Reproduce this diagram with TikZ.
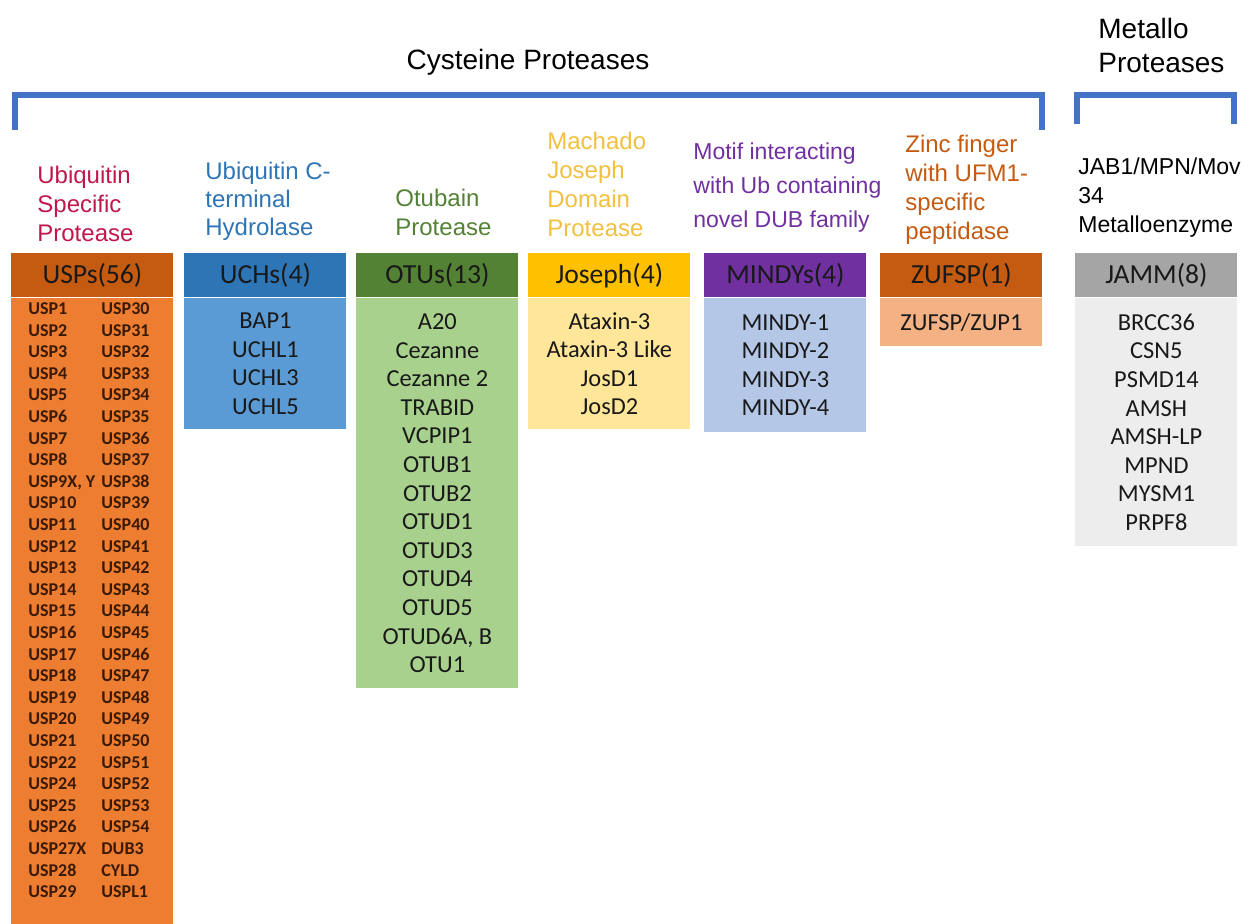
\documentclass[tikz,border=0pt]{standalone}
\usepackage{fontspec}
\setmainfont{Liberation Sans}
\newfontfamily\calibri{Carlito}
\usetikzlibrary{positioning}

\definecolor{braceBlue}{HTML}{4472C4}
\definecolor{uspHdr}{HTML}{C55A11}
\definecolor{uspBody}{HTML}{ED7D31}
\definecolor{uspTtl}{HTML}{C0184C}
\definecolor{uspText}{HTML}{3A1A05}
\definecolor{uchHdr}{HTML}{2E75B6}
\definecolor{uchBody}{HTML}{5B9BD5}
\definecolor{uchTtl}{HTML}{2E75B6}
\definecolor{otuHdr}{HTML}{548235}
\definecolor{otuBody}{HTML}{A9D18E}
\definecolor{otuTtl}{HTML}{538135}
\definecolor{josHdr}{HTML}{FFC000}
\definecolor{josBody}{HTML}{FFE699}
\definecolor{josTtl}{HTML}{F2C040}
\definecolor{minHdr}{HTML}{7030A0}
\definecolor{minBody}{HTML}{B4C7E7}
\definecolor{minTtl}{HTML}{7030A0}
\definecolor{zufHdr}{HTML}{C55A11}
\definecolor{zufBody}{HTML}{F4B183}
\definecolor{zufTtl}{HTML}{C55A11}
\definecolor{jamHdr}{HTML}{A5A5A5}
\definecolor{jamBody}{HTML}{EDEDED}

\begin{document}
\begin{tikzpicture}[x=0.5pt,y=-0.5pt,
  hdr/.style={anchor=north west, minimum width=81pt, minimum height=22pt, inner sep=0pt,
    text=black!90, font=\calibri\fontsize{13.8}{15}\selectfont},
  lst/.style={below=0pt of #1, minimum width=81pt, inner sep=0pt, align=center,
    text=black!90, font=\calibri\fontsize{12.2}{14.3}\selectfont},
  ttl/.style={anchor=north west, inner sep=0pt, align=left, font=\fontsize{12}{14.5}\selectfont},
  brace/.style={draw=braceBlue, line width=3pt}]
\useasboundingbox (0,0) rectangle (1254,923);

% group titles and brackets
\node[inner sep=0pt, font=\fontsize{14}{17}\selectfont] (cysTitle) at (528,62) {Cysteine Proteases};
\node[ttl, font=\fontsize{14}{17}\selectfont] (metTitle) at (1098,18) {Metallo\\Proteases};
\coordinate (cysL) at (15,130);
\coordinate (cysR) at (1042,130);
\coordinate (metL) at (1077,124);
\coordinate (metR) at (1234,124);
\draw[brace] (cysL) -- ++(0,-35) -| (cysR);
\draw[brace] (metL) -- ++(0,-29) -| (metR);

% family names
\node[ttl, text=uspTtl] (uspTitle) at (37,166) {Ubiquitin\\Specific\\Protease};
\node[ttl, text=uchTtl, font=\fontsize{12}{14}\selectfont] (uchTitle) at (205,162) {Ubiquitin C-\\terminal\\Hydrolase};
\node[ttl, text=otuTtl] (otuTitle) at (395,189) {Otubain\\Protease};
\node[ttl, text=josTtl] (josTitle) at (547,132) {Machado\\Joseph\\Domain\\Protease};
\node[ttl, text=minTtl, font=\fontsize{11.5}{17}\selectfont] (minTitle) at (693,142) {Motif interacting\\with Ub containing\\novel DUB family};
\node[ttl, text=zufTtl] (zufTitle) at (905,135) {Zinc finger\\with UFM1-\\specific\\peptidase};
\node[ttl, font=\fontsize{11.5}{14.5}\selectfont] (jamTitle) at (1078,157) {JAB1/MPN/Mov\\34\\Metalloenzyme};

% headers
\node[hdr, fill=uspHdr] (uspH) at (11,253) {USPs(56)};
\node[hdr, fill=uchHdr] (uchH) at (184,253) {UCHs(4)};
\node[hdr, fill=otuHdr] (otuH) at (356,253) {OTUs(13)};
\node[hdr, fill=josHdr] (josH) at (528,253) {Joseph(4)};
\node[hdr, fill=minHdr] (minH) at (704,253) {MINDYs(4)};
\node[hdr, fill=zufHdr] (zufH) at (880,253) {ZUFSP(1)};
\node[hdr, fill=jamHdr] (jamH) at (1075,253) {JAMM(8)};

% members
\node[lst=uspH, fill=uspBody, minimum height=323.5pt, text=uspText,
  font=\calibri\bfseries\fontsize{9}{10.8}\selectfont] (uspL) {%
  \begin{tabular}{@{\hspace{8pt}}p{36.5pt}@{}p{35.5pt}@{}}
  USP1 & USP30\\ USP2 & USP31\\ USP3 & USP32\\ USP4 & USP33\\
  USP5 & USP34\\ USP6 & USP35\\ USP7 & USP36\\ USP8 & USP37\\
  USP9X, Y & USP38\\ USP10 & USP39\\ USP11 & USP40\\ USP12 & USP41\\
  USP13 & USP42\\ USP14 & USP43\\ USP15 & USP44\\ USP16 & USP45\\
  USP17 & USP46\\ USP18 & USP47\\ USP19 & USP48\\ USP20 & USP49\\
  USP21 & USP50\\ USP22 & USP51\\ USP24 & USP52\\ USP25 & USP53\\
  USP26 & USP54\\ USP27X & DUB3\\ USP28 & CYLD\\ USP29 & USPL1\\[20pt]
  \end{tabular}};
\node[lst=uchH, fill=uchBody, minimum height=65.5pt] (uchL) {BAP1\\UCHL1\\UCHL3\\UCHL5};
\node[lst=otuH, fill=otuBody, minimum height=195pt] (otuL)
  {A20\\Cezanne\\Cezanne 2\\TRABID\\VCPIP1\\OTUB1\\OTUB2\\OTUD1\\OTUD3\\OTUD4\\OTUD5\\OTUD6A, B\\OTU1};
\node[lst=josH, fill=josBody, minimum height=65.5pt] (josL) {Ataxin-3\\Ataxin-3 Like\\JosD1\\JosD2};
\node[lst=minH, fill=minBody, minimum height=67pt] (minL) {MINDY-1\\MINDY-2\\MINDY-3\\MINDY-4};
\node[lst=zufH, fill=zufBody, minimum height=24pt] (zufL) {ZUFSP/ZUP1};
\node[lst=jamH, fill=jamBody, minimum height=124pt] (jamL)
  {BRCC36\\CSN5\\PSMD14\\AMSH\\AMSH-LP\\MPND\\MYSM1\\PRPF8};
\end{tikzpicture}
\end{document}
